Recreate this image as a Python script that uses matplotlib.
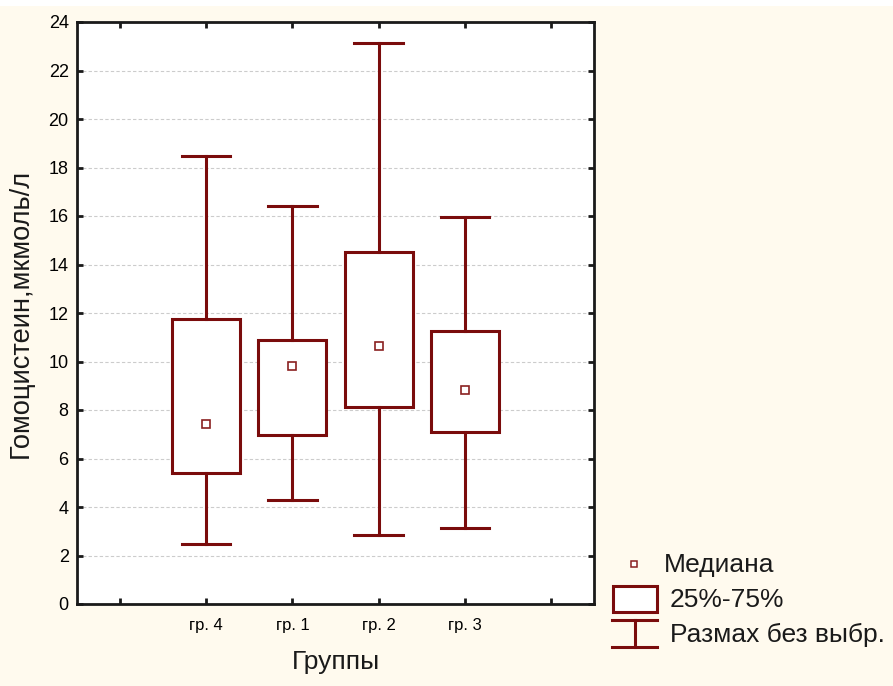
"""Boxplot: homocysteine levels by group (median, IQR, range w/o outliers)."""

import matplotlib
matplotlib.use("Agg")
import matplotlib.pyplot as plt
from matplotlib.lines import Line2D
from matplotlib.patches import Rectangle

groups = ["гр. 4", "гр. 1", "гр. 2", "гр. 3"]
medians = [7.42, 9.81, 10.64, 8.82]
q1 = [5.40, 6.97, 8.12, 7.09]
q3 = [11.75, 10.89, 14.52, 11.26]
whis_lo = [2.47, 4.29, 2.85, 3.13]
whis_hi = [18.47, 16.41, 23.13, 15.96]

DARK_RED = "#7a0c0c"
BG = "#fffaee"

plt.rcParams["font.family"] = ["Liberation Sans", "DejaVu Sans"]


def main() -> None:
    fig = plt.figure(figsize=(8.93, 6.86), dpi=100, facecolor=BG)
    fig.patches.append(Rectangle((0, 1 - 6 / 686), 1, 6 / 686, transform=fig.transFigure,
                                 facecolor="white", edgecolor="none", zorder=0))
    ax = fig.add_axes([77 / 893, 82 / 686, 517 / 893, 582 / 686])
    ax.set_facecolor("white")

    positions = list(range(1, len(groups) + 1))
    stats = [
        {"med": m, "q1": a, "q3": b, "whislo": lo, "whishi": hi, "fliers": []}
        for m, a, b, lo, hi in zip(medians, q1, q3, whis_lo, whis_hi)
    ]
    ax.bxp(
        stats,
        positions=positions,
        widths=0.79,
        capwidths=0.56,
        patch_artist=True,
        showfliers=False,
        boxprops=dict(facecolor="white", edgecolor=DARK_RED, linewidth=2.2),
        whiskerprops=dict(color=DARK_RED, linewidth=2.2),
        capprops=dict(color=DARK_RED, linewidth=2.2),
        medianprops=dict(visible=False),
        zorder=3,
    )
    ax.plot(positions, medians, linestyle="none", marker="s", markersize=6.2,
            markerfacecolor="white", markeredgecolor="#8a2020", markeredgewidth=1.2, zorder=4)

    ax.set_xlim(-0.5, 5.5)
    ax.set_ylim(0, 24)
    ax.set_xticks(range(0, 6))
    ax.set_xticklabels([""] + groups + [""], fontsize=12)
    ax.set_yticks(range(0, 25, 2))
    ax.tick_params(axis="y", labelsize=13, pad=6)
    ax.tick_params(axis="x", pad=10)
    ax.tick_params(direction="in", length=4, width=2, top=True, right=True, color="#1a1a1a")
    for sp in ax.spines.values():
        sp.set_linewidth(2.0)
        sp.set_color("#1a1a1a")

    ax.yaxis.grid(True, linestyle=(0, (3, 2)), color="#cccccc", linewidth=0.8)
    ax.set_axisbelow(True)

    ax.set_xlabel("Группы", fontsize=19, labelpad=12, color="#1a1a1a")
    ax.set_ylabel("Гомоцистеин,мкмоль/л", fontsize=19.6, labelpad=11, color="#1a1a1a")

    # legend, drawn by hand to the right of the axes (pixel coords)
    W, H = 893, 686

    def fx(px):
        return px / W

    def fy(py):
        return 1 - py / H

    fig.add_artist(Line2D([fx(634)], [fy(564)], linestyle="none", marker="s", markersize=5,
                          markerfacecolor="white", markeredgecolor="#8a2020", markeredgewidth=1.1))
    fig.text(fx(664), fy(565), "Медиана", fontsize=19, va="center", color="#1a1a1a")

    fig.add_artist(Rectangle((fx(613), fy(612)), fx(44), 26 / H, transform=fig.transFigure,
                             facecolor="white", edgecolor=DARK_RED, linewidth=2.2))
    fig.text(fx(670), fy(600), "25%-75%", fontsize=19, va="center", color="#1a1a1a")

    for yy in (620, 647):
        fig.add_artist(Line2D([fx(612), fx(657)], [fy(yy), fy(yy)], color=DARK_RED, linewidth=2.2))
    fig.add_artist(Line2D([fx(635), fx(635)], [fy(620), fy(647)], color=DARK_RED, linewidth=2.2))
    fig.text(fx(670), fy(635), "Размах без выбр.", fontsize=19, va="center", color="#1a1a1a")

    fig.savefig("out.png", dpi=100, facecolor=BG)
    plt.close(fig)


if __name__ == "__main__":
    main()
